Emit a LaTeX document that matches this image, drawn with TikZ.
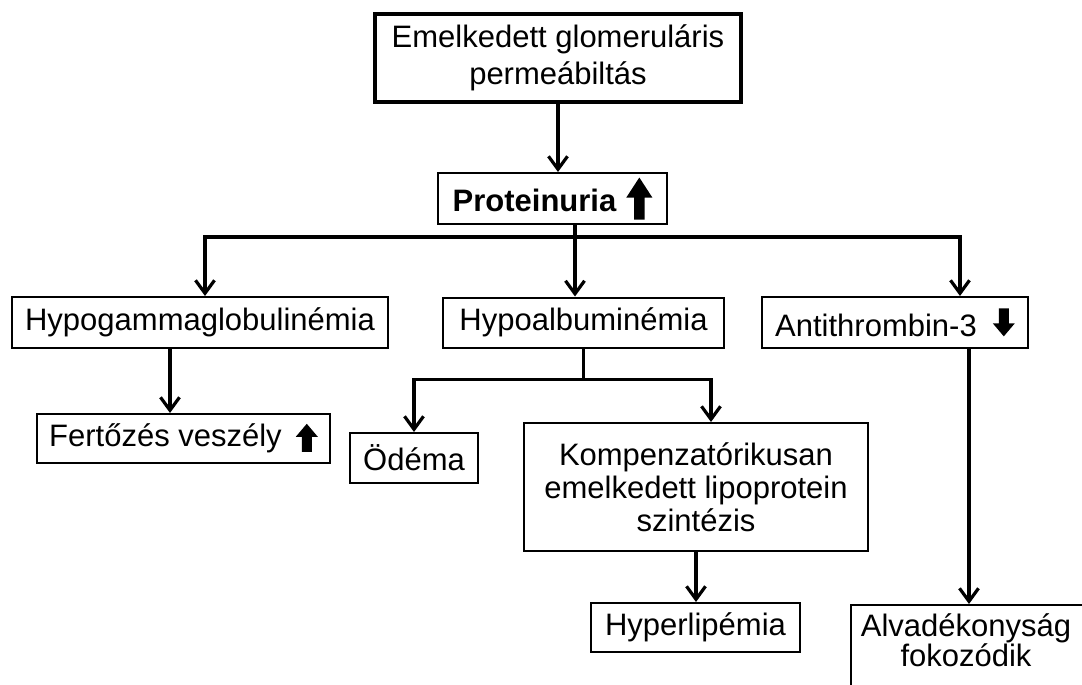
\documentclass[tikz,border=0pt]{standalone}
\usepackage{fontspec}
\setmainfont{Liberation Sans}
\usetikzlibrary{arrows.meta}

% text size used in every box
\newcommand\dfont{\fontsize{15.5pt}{18pt}\selectfont}
% filled block arrows set inline with the text
\newcommand\bigup{\tikz[x=1pt,y=1pt,baseline=4pt]\fill (-2.6,0) -- (2.6,0) -- (2.6,11) -- (6.5,11) -- (0,21) -- (-6.5,11) -- (-2.6,11) -- cycle;}
\newcommand\smallup{\tikz[x=1pt,y=1pt,baseline=2.5pt]\fill (-2.5,0) -- (2.5,0) -- (2.5,7.5) -- (5.5,7.5) -- (0,14) -- (-5.5,7.5) -- (-2.5,7.5) -- cycle;}
\newcommand\smalldown{\tikz[x=1pt,y=1pt,baseline=0pt]\fill (-2.5,14) -- (2.5,14) -- (2.5,6.5) -- (5.5,6.5) -- (0,0) -- (-5.5,6.5) -- (-2.5,6.5) -- cycle;}

\begin{document}
\begin{tikzpicture}[x=0.5pt,y=-0.5pt,
  box/.style={draw,line width=1pt,inner sep=0pt,align=center,font=\dfont},
  link/.style={line width=1.6pt},
  arr/.style={link,-{Straight Barb[length=6.5pt,width=9.5pt]}}]
\useasboundingbox (0,0) rectangle (1082,685);
\clip (0,0) rectangle (1082,685);

% boxes
\node[box,line width=2.2pt,minimum width=183pt,minimum height=44pt,
      font=\fontsize{15.5pt}{18.5pt}\selectfont] (top) at (558,58)
  {Emelkedett glomeruláris\\permeábiltás};
\node[box,minimum width=114.5pt,minimum height=25.5pt,font=\dfont\bfseries] (prot) at (552.5,198.5)
  {Proteinuria\hspace{5pt}\bigup};
\node[box,minimum width=188pt,minimum height=25.5pt] (hypog) at (200,322.5) {Hypogammaglobulinémia};
\node[box,minimum width=140.5pt,minimum height=25pt] (hypoalb) at (583.5,322.5) {Hypoalbuminémia};
\node[box,minimum width=133pt,minimum height=25.5pt] (antith) at (895,322.5) {Antithrombin-3\hspace{8pt}\smalldown};
\node[box,minimum width=146.5pt,minimum height=24.5pt] (fert) at (183.5,438.5) {Fertőzés veszély\hspace{7pt}\smallup};
\node[box,minimum width=64pt,minimum height=25pt] (odema) at (414,458) {Ödéma};
\node[box,minimum width=172pt,minimum height=64pt,font=\fontsize{15.5pt}{16.5pt}\selectfont] (komp) at (696,487)
  {Kompenzatórikusan\\emelkedett lipoprotein\\szintézis};
\node[box,minimum width=104.5pt,minimum height=24.5pt] (hyperlip) at (695.5,627.5) {Hyperlipémia};
\node[draw,line width=1pt,inner sep=0pt,minimum width=130pt,minimum height=60pt,anchor=north west] (alvadbox) at (850,604) {};
\node[font=\fontsize{15.5pt}{15pt}\selectfont,align=center,inner sep=0pt] (alvad) at (966,640)
  {Alvadékonyság\\fokozódik};

% junction points of the branching connectors
\coordinate (bus) at (575,237);
\coordinate (hb) at ([yshift=-15.5pt]hypoalb.south);

% connectors
\draw[arr] (top.south) -- (top.south |- prot.north);
\draw[link] (prot.south -| bus) -- (bus);
\draw[arr] (bus) -| ([xshift=2.5pt]hypog.north);
\draw[arr] (bus) -- (bus |- hypoalb.north);
\draw[arr] (bus) -| ([xshift=32.5pt]antith.north);
\draw[arr] ([xshift=-15pt]hypog.south) -- ([xshift=-15pt]hypog.south |- fert.north);
\draw[link] (hypoalb.south) -- (hb);
\draw[arr] (hb) -| (odema.north);
\draw[arr] (hb) -| ([xshift=7.5pt]komp.north);
\draw[arr] (komp.south) -- (komp.south |- hyperlip.north);
\draw[arr] ([xshift=37pt]antith.south) -- ([xshift=37pt]antith.south |- alvadbox.north);
\end{tikzpicture}
\end{document}
